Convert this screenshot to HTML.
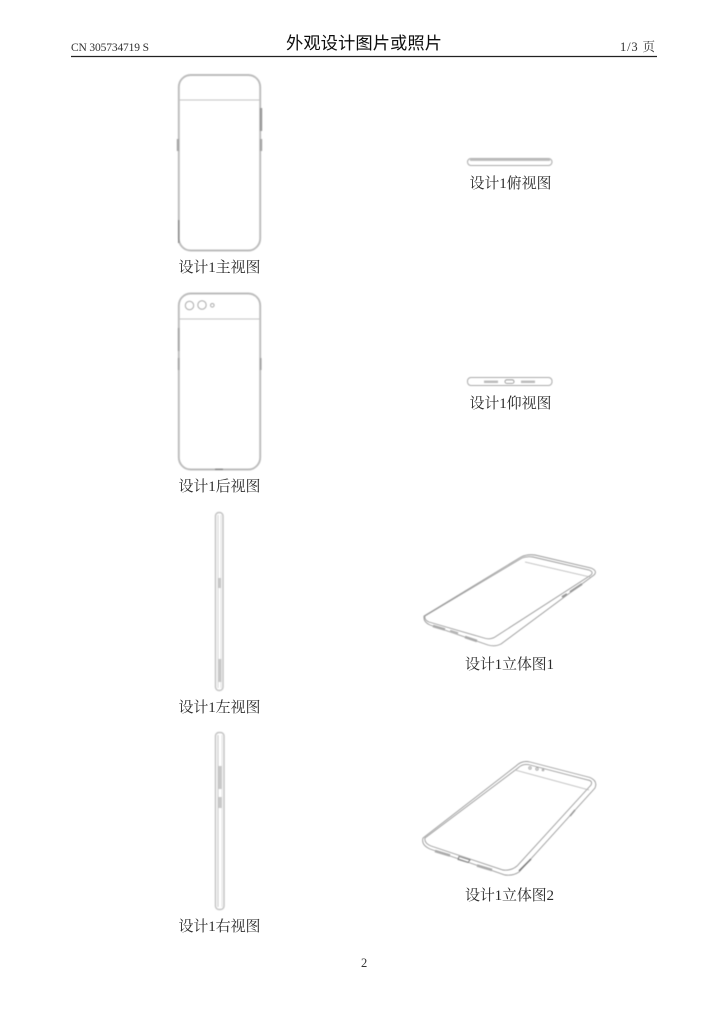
<!DOCTYPE html>
<html lang="zh">
<head>
<meta charset="utf-8">
<style>
html,body{margin:0;padding:0;background:#fff;width:728px;height:1017px;overflow:hidden}
svg{display:block}
.l{font-family:"Liberation Serif","Noto Serif CJK SC",serif;font-size:15px;fill:#2a2a2a}
.g{fill:none;stroke:#aaa;stroke-width:1}
.h{fill:none;stroke:#bcbcbc;stroke-width:1.9}
.t{fill:none;stroke:#9a9a9a;stroke-width:.9}
.b{fill:#c8c8c8;stroke:none}
</style>
</head>
<body>
<svg width="728" height="1017" viewBox="0 0 728 1017" xmlns="http://www.w3.org/2000/svg">
<defs>
<filter id="s" x="-5%" y="-5%" width="110%" height="110%"><feGaussianBlur stdDeviation="0.45"/></filter>
<filter id="x" x="-5%" y="-5%" width="110%" height="110%"><feGaussianBlur stdDeviation="0.25"/></filter>
</defs>
<rect width="728" height="1017" fill="#fff"/>

<g filter="url(#x)">
<text x="71" y="51" font-family="'Liberation Serif',serif" font-size="11.5" fill="#333" textLength="78" lengthAdjust="spacing">CN 305734719 S</text>
<text x="286" y="49" font-family="'Noto Sans CJK SC',sans-serif" font-size="17.3" fill="#111" textLength="156">外观设计图片或照片</text>
<text x="620" y="51" font-family="'Liberation Serif','Noto Serif CJK SC',serif" font-size="12.5" fill="#333" textLength="35">1/3 页</text>
<line x1="71" y1="56.5" x2="657" y2="56.5" stroke="#222" stroke-width="1.2"/>
<text class="l" x="178.5" y="272" textLength="82">设计1主视图</text>
<text class="l" x="178.5" y="491" textLength="82">设计1后视图</text>
<text class="l" x="178.5" y="712" textLength="82">设计1左视图</text>
<text class="l" x="178.5" y="931" textLength="82">设计1右视图</text>
<text class="l" x="469.5" y="188" textLength="82">设计1俯视图</text>
<text class="l" x="469.5" y="408" textLength="82">设计1仰视图</text>
<text class="l" x="465" y="669" textLength="89">设计1立体图1</text>
<text class="l" x="465" y="900" textLength="89">设计1立体图2</text>
<text x="361" y="967" font-family="'Liberation Serif',serif" font-size="12.5" fill="#333">2</text>
</g>

<g filter="url(#s)">
<!-- front -->
<rect x="178.8" y="75" width="81.4" height="175.5" rx="12" class="h"/>
<line x1="179" y1="100" x2="260" y2="100" stroke="#c4c4c4"/>
<rect x="259.8" y="108" width="2.4" height="23" fill="#999"/>
<rect x="259.8" y="139" width="2.4" height="12" fill="#a5a5a5"/>
<rect x="176.8" y="139" width="2.2" height="12" fill="#a5a5a5"/>
<rect x="178" y="220" width="1.4" height="23" fill="#888"/>

<!-- back -->
<rect x="178.8" y="293.5" width="81.4" height="176" rx="12" class="h"/>
<line x1="179" y1="319" x2="260" y2="319" stroke="#c4c4c4"/>
<circle cx="189.5" cy="305.5" r="4.2" class="g"/>
<circle cx="202" cy="305" r="4.2" class="g"/>
<circle cx="212.3" cy="305.3" r="1.8" class="g"/>
<rect x="177.8" y="328" width="1.8" height="23" fill="#a5a5a5"/>
<rect x="177.8" y="358" width="1.8" height="12" fill="#a5a5a5"/>
<rect x="259.6" y="358" width="2" height="12" fill="#a5a5a5"/>
<rect x="215" y="468.6" width="8" height="1.4" fill="#888"/>

<!-- top view -->
<rect x="467.5" y="158.5" width="84.5" height="7" rx="3.5" class="g"/>
<rect x="470" y="158.5" width="80" height="2.4" fill="#bbb"/>

<!-- bottom view -->
<rect x="467.5" y="377.5" width="84.5" height="8" rx="3.5" class="g"/>
<rect x="484" y="380.6" width="14" height="2.4" fill="#bbb"/>
<rect x="521" y="380.6" width="14" height="2.4" fill="#bbb"/>
<rect x="505" y="379.8" width="9" height="3.6" rx="1.8" fill="none" stroke="#888" stroke-width=".8"/>

<!-- left view -->
<rect x="215.5" y="512.5" width="7.5" height="178" rx="3.5" fill="none" stroke="#c4c4c4" stroke-width="1.5"/>
<line x1="218" y1="515" x2="218" y2="688" stroke="#ccc" stroke-width=".8"/>
<line x1="221" y1="515" x2="221" y2="688" stroke="#ddd" stroke-width=".8"/>
<rect x="218" y="578" width="3" height="10" class="b"/>
<rect x="218.5" y="659" width="3" height="23" class="b"/>

<!-- right view -->
<rect x="215.5" y="732.5" width="8.5" height="177" rx="3.5" fill="none" stroke="#c4c4c4" stroke-width="1.5"/>
<line x1="218" y1="735" x2="218" y2="907" stroke="#bbb" stroke-width=".8"/>
<line x1="222" y1="735" x2="222" y2="907" stroke="#ddd" stroke-width=".8"/>
<rect x="218.5" y="766" width="3.2" height="23" class="b"/>
<rect x="218.5" y="797" width="3.2" height="11" class="b"/>

<!-- perspective 1 -->
<path d="M424,616 Q423,622 430,625 L488,645 Q495,647 501,644 L594,575 Q598,571 591,568 L535,555 Q527,554 521,557 Z" class="t"/>
<path d="M425,616 Q424,620 429,622 L484,638 Q490,640 495,637 L591,575 Q594,572 589,570 L533,557 Q527,556 522,558 Z" class="t"/>
<line x1="525" y1="562" x2="590" y2="577" stroke="#b5b5b5" stroke-width=".8"/>
<line x1="433" y1="626" x2="445" y2="629.5" stroke="#aaa" stroke-width="2.6"/>
<line x1="450" y1="631" x2="458" y2="633.5" stroke="#b5b5b5" stroke-width="2.6"/>
<line x1="465" y1="637" x2="477" y2="641" stroke="#aaa" stroke-width="2.6"/>
<line x1="562" y1="597" x2="567" y2="594" stroke="#999" stroke-width="2"/>
<line x1="570" y1="592" x2="582" y2="584" stroke="#999" stroke-width="2"/>

<!-- perspective 2 -->
<path d="M423,838 Q421,845 430,849 L505,875 Q513,876 519,872 L595,788 Q598,781 590,777.5 L530,762 Q522,760 516,766 Z" class="t"/>
<path d="M425,838 Q424,843 431,846 L503,870 Q511,871 517,866 L591,785 Q593,781 588,780 L530,765 Q523,763 518,768 Z" class="t"/>
<line x1="515" y1="770" x2="589" y2="790" stroke="#b5b5b5" stroke-width=".8"/>
<circle cx="530" cy="768" r="1.2" class="g" stroke-width=".7"/>
<circle cx="537" cy="769" r="1.2" class="g" stroke-width=".7"/>
<circle cx="543" cy="770" r=".8" class="g" stroke-width=".7"/>
<line x1="435" y1="851" x2="450" y2="855.5" stroke="#aaa" stroke-width="2.6"/>
<path d="M459,856.5 L470,860 L468,862.5 L458,859.5 Z" fill="none" stroke="#777" stroke-width=".9"/>
<line x1="477" y1="865.5" x2="492" y2="870" stroke="#aaa" stroke-width="2.6"/>
<line x1="519" y1="871" x2="531" y2="859" stroke="#777" stroke-width="1.5"/>
<line x1="570" y1="816" x2="575" y2="810" stroke="#999" stroke-width="1.6"/>
</g>
</svg>
</body>
</html>
